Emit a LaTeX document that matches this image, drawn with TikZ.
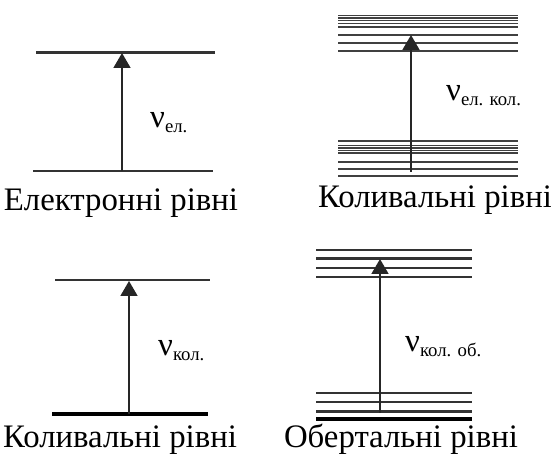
\documentclass[tikz,border=0pt]{standalone}
\usepackage{fontspec}
\setmainfont{Liberation Serif}
\usetikzlibrary{arrows.meta}

\newcommand{\lowidx}[1]{\raisebox{-4pt}{\fontsize{16}{16}\selectfont #1}}

\begin{document}
\begin{tikzpicture}[x=0.03cm, y=-0.03cm,
  level/.style={line width=1.9pt, black!80},
  finelevel/.style={line width=1.5pt, black!75},
  ground/.style={line width=2.8pt, black},
  trans/.style={-{Triangle[length=12.8pt, width=14.5pt]}, line width=1.4pt, black!85},
  freq/.style={anchor=base west, inner sep=0pt, font=\fontsize{28}{28}\selectfont},
  caption/.style={anchor=base, inner sep=0pt, font=\fontsize{28}{30}\selectfont}
]
\useasboundingbox (0,0) rectangle (551,457);

% electronic levels
\draw[level] (36,52.5) -- (215,52.5);
\draw[level] (33,171) -- (213,171);
\coordinate (elLo) at (122,171);
\coordinate (elHi) at (122,53);
\draw[trans] (elLo) -- (elHi);
\node[freq] (nuEl) at (150,128) {ν\lowidx{ел.}};
\node[caption] (capEl) at (121,211) {Електронні рівні};

% electronic-vibrational levels
\foreach \y in {15.5,18,20.5,23.5,27,35,43,51,141,145.5,148,150.5,153,162,169,176}
  \draw[finelevel] (338,\y) -- (518,\y);
\coordinate (evLo) at (411,172);
\coordinate (evHi) at (411,35);
\draw[trans] (evLo) -- (evHi);
\node[freq] (nuEv) at (446,101) {ν\lowidx{ел. кол.}};
\node[caption] (capEv) at (435,208) {Коливальні рівні};

% vibrational levels
\draw[level] (55,280) -- (210,280);
\draw[ground] (52,414) -- (208,414);
\coordinate (vbLo) at (129,414);
\coordinate (vbHi) at (129,281);
\draw[trans] (vbLo) -- (vbHi);
\node[freq] (nuVb) at (158,356) {ν\lowidx{кол.}};
\node[caption] (capVb) at (120,448) {Коливальні рівні};

% overtone levels
\foreach \y in {250,258.5,268,277,393,402,411.5}
  \draw[level] (316,\y) -- (472,\y);
\draw[ground] (316,419) -- (472,419);
\coordinate (ovLo) at (380,413);
\coordinate (ovHi) at (380,259);
\draw[trans] (ovLo) -- (ovHi);
\node[freq] (nuOv) at (405,352) {ν\lowidx{кол. об.}};
\node[caption] (capOv) at (401,448) {Обертальні рівні};
\end{tikzpicture}
\end{document}
